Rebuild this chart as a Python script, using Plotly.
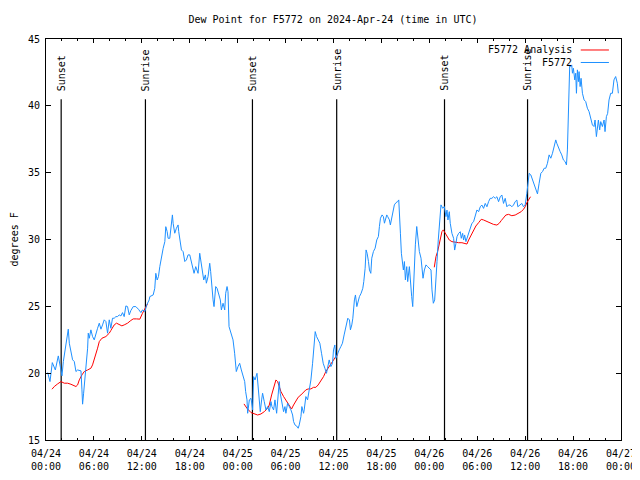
import plotly.graph_objects as go

# ---------------- data (time in hours since 2024-04-24 00:00 UTC) ----------------
obs_hours = [
    0.21, 0.5, 0.79, 1.17, 1.54, 1.75, 2.0, 2.17, 2.42, 2.58, 2.79, 2.92, 3.12, 3.33, 3.54, 3.75, 3.96,
    4.38, 4.5, 4.58, 4.71, 4.92, 5.08, 5.21, 5.29, 5.42, 5.62, 5.83, 6.04, 6.25, 6.46, 6.67, 6.88, 7.08,
    7.29, 7.5, 7.58, 7.71, 7.92, 8.12, 8.33, 8.54, 8.75, 8.96, 9.17, 9.38, 9.58, 9.79, 10.0, 10.21, 10.42,
    10.62, 10.92, 11.25, 11.58, 11.88, 12.08, 12.38, 12.62, 12.92, 13.0, 13.42, 13.62, 13.75, 13.92, 14.08,
    14.25, 14.46, 14.67, 14.88, 15.0, 15.17, 15.29, 15.5, 15.71, 15.83, 15.92, 16.12, 16.33, 16.54, 16.62,
    16.75, 16.96, 17.17, 17.38, 17.58, 17.79, 18.0, 18.21, 18.42, 18.54, 18.75, 18.92, 19.04, 19.25, 19.46,
    19.58, 19.75, 19.96, 20.08, 20.29, 20.5, 20.62, 20.75, 20.92, 21.04, 21.25, 21.42, 21.67, 21.83, 21.96,
    22.17, 22.38, 22.5, 22.67, 22.79, 22.92, 23.21, 23.42, 23.62, 23.83, 24.04, 24.25, 24.46, 24.67, 24.88,
    25.0, 25.17, 25.25, 25.46, 25.67, 25.88, 26.0, 26.17, 26.42, 26.58, 26.71, 26.83, 27.0, 27.12, 27.33,
    27.54, 27.75, 27.96, 28.17, 28.29, 28.5, 28.67, 28.88, 29.08, 29.21, 29.33, 29.5, 29.62, 29.75, 29.92,
    30.04, 30.25, 30.46, 30.67, 30.88, 31.0, 31.17, 31.38, 31.58, 31.71, 31.92, 32.04, 32.25, 32.33, 32.54,
    32.75, 32.96, 33.17, 33.38, 33.58, 33.71, 33.88, 34.08, 34.29, 34.5, 34.71, 34.92, 35.12, 35.25, 35.46,
    35.67, 35.88, 36.0, 36.17, 36.29, 36.5, 36.71, 36.92, 37.12, 37.33, 37.62, 37.79, 38.0, 38.12, 38.29,
    38.42, 38.62, 38.75, 38.92, 39.04, 39.25, 39.46, 39.67, 39.79, 39.96, 40.08, 40.21, 40.38, 40.5, 40.67,
    40.79, 41.0, 41.21, 41.42, 41.62, 41.75, 41.88, 42.08, 42.25, 42.38, 42.5, 42.67, 42.79, 43.0, 43.12,
    43.33, 43.5, 43.62, 43.83, 44.04, 44.17, 44.25, 44.38, 44.5, 44.67, 44.75, 44.88, 45.0, 45.17, 45.29,
    45.5, 45.62, 45.79, 45.92, 46.04, 46.12, 46.25, 46.42, 46.58, 46.75, 46.96, 47.08, 47.21, 47.38, 47.58,
    47.79, 48.0, 48.21, 48.33, 48.5, 48.67, 48.83, 48.96, 49.12, 49.25, 49.46, 49.67, 49.88, 50.08, 50.21,
    50.33, 50.5, 50.62, 50.83, 51.04, 51.17, 51.33, 51.46, 51.67, 51.88, 52.0, 52.17, 52.29, 52.42, 52.58,
    52.71, 52.92, 53.12, 53.33, 53.54, 53.75, 53.96, 54.17, 54.38, 54.58, 54.79, 55.0, 55.21, 55.42, 55.62,
    55.83, 56.04, 56.25, 56.46, 56.67, 56.88, 57.08, 57.29, 57.5, 57.71, 57.92, 58.12, 58.33, 58.54, 58.75,
    58.96, 59.08, 59.38, 59.58, 59.79, 60.0, 60.21, 60.33, 60.5, 60.71, 60.92, 61.12, 61.33, 61.54, 61.75,
    61.96, 62.17, 62.38, 62.58, 62.79, 63.0, 63.21, 63.42, 63.62, 63.83, 63.96, 64.17, 64.38, 64.58, 64.79,
    65.0, 65.17, 65.29, 65.42, 65.5, 65.58, 65.71, 65.83, 65.92, 66.04, 66.21, 66.33, 66.42, 66.54, 66.67,
    66.75, 66.88, 67.0, 67.17, 67.38, 67.58, 67.79, 68.0, 68.21, 68.42, 68.62, 68.75, 68.92, 69.04, 69.17,
    69.33, 69.46, 69.67, 69.88, 70.0, 70.17, 70.33, 70.5, 70.71, 70.92, 71.12, 71.33, 71.54, 71.67,
]
obs_dewpoint = [
    20.05, 19.37, 20.79, 20.24, 21.29, 20.5, 19.8, 20.87, 21.74, 22.24, 23.29, 22.24, 21.62, 21.0, 20.87, 20.12, 20.24,
    20.17, 18.75, 17.68, 18.5, 19.87, 20.87, 21.87, 22.99, 22.61, 23.24, 22.74, 22.49, 22.99, 23.36, 23.74, 23.29, 23.61,
    23.99, 23.86, 23.49, 22.99, 23.99, 23.36, 24.11, 24.11, 24.23, 24.23, 24.36, 24.28, 24.53, 24.23, 25.03, 24.98, 24.36,
    24.68, 24.98, 24.98, 24.78, 24.53, 24.73, 24.61, 25.11, 25.48, 25.73, 25.85, 26.35, 27.47, 26.97, 27.22,
    27.97, 28.72, 29.34, 29.84, 30.96, 30.59, 30.09, 30.09, 31.46, 31.84, 31.21, 30.47, 30.84, 31.09, 30.59,
    29.97, 29.22, 29.09, 28.35, 28.47, 28.85, 28.85, 28.35, 27.97, 27.47, 27.97, 27.72, 27.47, 28.97, 28.22,
    27.72, 26.97, 27.35, 26.73, 27.22, 28.22, 27.6, 26.35, 25.48, 24.98, 26.48, 26.35, 25.73, 25.48, 24.73,
    25.23, 24.73, 25.98, 26.48, 26.1, 23.48, 22.86, 22.49, 21.49, 20.12, 20.49, 20.74, 20.24, 19.87, 19.37,
    18.62, 18.0, 17.0, 18.0, 18.12, 17.25, 19.74, 19.49, 19.99, 19.0, 18.25, 17.12, 18.0, 18.5, 17.87,
    17.25, 17.5, 17.12, 17.87, 17.5, 17.25, 18.0, 17.0, 19.0, 19.37, 18.5, 18.0, 17.75, 17.12, 17.5,
    17.0, 17.75, 17.5, 17.25, 16.87, 16.38, 16.13, 16.05, 15.88, 16.13, 16.75, 17.5, 17.0, 17.25, 18.25,
    18.0, 18.75, 19.49, 20.74, 22.24, 23.11, 22.74, 22.49, 22.24, 21.49, 20.74, 20.37, 19.99, 20.37, 20.99,
    20.49, 20.74, 21.74, 22.11, 21.11, 21.49, 21.74, 21.99, 22.24, 22.86, 23.73, 24.11, 23.98, 23.24, 23.61,
    24.11, 25.48, 25.85, 24.98, 25.36, 25.73, 25.98, 26.35, 26.85, 27.85, 29.22, 28.97, 28.35, 27.72, 27.47,
    28.6, 29.1, 29.35, 29.97, 30.22, 30.97, 31.59, 31.84, 31.71, 31.22, 31.59, 31.84, 31.71, 31.47, 31.09,
    31.71, 31.96, 32.59, 32.76, 32.84, 32.96, 32.21, 30.47, 28.97, 28.35, 27.72, 28.35, 26.98, 27.97, 26.85,
    27.97, 26.6, 25.73, 24.98, 26.73, 28.1, 29.6, 30.97, 29.72, 29.1, 28.6, 27.97, 27.1, 27.72, 28.1,
    27.97, 27.85, 27.72, 26.23, 25.23, 25.48, 26.73, 28.35, 29.97, 31.34, 32.59, 32.34, 32.46, 31.71, 32.2,
    31.46, 32.08, 31.21, 30.46, 30.09, 29.21, 29.71, 30.21, 30.46, 30.58, 30.09, 30.46, 29.96, 30.34, 29.84,
    30.09, 30.58, 30.96, 31.21, 31.33, 31.71, 32.21, 32.08, 32.45, 32.58, 32.33, 32.7, 32.45, 32.83, 33.08,
    33.08, 33.2, 33.08, 33.2, 32.83, 33.2, 33.33, 32.7, 33.08, 32.45, 32.58, 32.58, 32.45, 32.58, 32.83,
    32.95, 32.45, 32.58, 32.7, 32.45, 32.58, 33.45, 34.33, 34.95, 34.83, 34.46, 34.21, 33.83, 33.41, 34.21,
    34.95, 35.08, 35.33, 35.33, 35.7, 36.33, 36.08, 36.45, 36.95, 37.45, 37.2, 36.83, 36.58, 36.33, 35.95,
    35.83, 35.58, 36.7, 38.94, 41.44, 43.06, 42.93, 43.06, 42.44, 42.81, 41.94, 42.44, 40.94, 42.69, 41.81,
    42.56, 41.44, 42.06, 40.94, 40.44, 40.32, 39.82, 39.57, 38.94, 38.57, 38.45, 38.94, 37.7, 38.45, 38.94,
    38.2, 38.82, 38.45, 38.94, 38.07, 39.19, 39.44, 40.44, 40.94, 40.94, 41.94, 42.19, 41.69, 40.94,
]

analysis_hours = [
    0.75, 1.04, 1.46, 1.88, 2.29, 2.71, 3.12, 3.42, 3.75, 3.96, 4.17, 4.5, 4.79, 5.21, 5.62, 5.83, 6.17,
    6.46, 6.67, 7.0, 7.5, 7.92, 8.12, 8.33, 8.54, 8.83, 9.17, 9.5, 9.79, 10.21, 10.62, 10.92, 11.33, 11.75,
    12.08, 12.42, 12.71, None,
    24.79, 25.17, 25.67, 26.08, 26.5, 26.92, 27.33, 27.75, 27.96, 28.25, 28.5, 28.79, 29.0, 29.21, 29.42,
    29.75, 30.04, 30.33, 30.58, 30.75, 31.0, 31.29, 31.58, 31.92, 32.25, 32.54, 32.83, 33.17, 33.5, 33.79,
    34.08, 34.42, 34.75, 35.04, 35.33, 35.67, 36.0, 36.29, 36.58, None,
    48.62, 48.83, 49.04, 49.25, 49.38, 49.58, 49.75, 50.0, 50.21, 50.5, 50.83, 51.25, 51.67, 52.08, 52.42,
    52.71, 52.92, 53.25, 53.54, 53.83, 54.17, 54.5, 54.79, 55.21, 55.62, 56.04, 56.46, 56.75, 57.0, 57.29,
    57.58, 57.92, 58.33, 58.75, 59.17, 59.5, 59.79, 60.0, 60.21, 60.42, 60.67,
]
analysis_dewpoint = [
    18.8, 19.0, 19.2, 19.37, 19.25, 19.25, 19.17, 19.07, 19.0, 19.12, 19.5, 19.87, 20.12, 20.24, 20.37, 20.62, 21.24,
    21.87, 22.36, 22.61, 22.74, 22.99, 23.19, 23.44, 23.61, 23.74, 23.66, 23.54, 23.61, 23.74, 23.94, 24.06, 24.06, 24.04,
    24.48, 24.86, 25.18, None,
    17.7, 17.37, 17.05, 16.95, 16.87, 16.95, 17.12, 17.37, 17.62, 18.37, 18.99, 19.49, 19.37, 18.99, 18.62,
    18.25, 18.0, 17.75, 17.45, 17.32, 17.62, 17.87, 18.2, 18.37, 18.55, 18.75, 18.82, 18.82, 18.94, 18.94,
    19.12, 19.44, 19.74, 20.12, 20.37, 20.74, 21.04, 21.24, 21.41, None,
    27.92, 28.72, 29.1, 29.72, 30.1, 30.59, 30.72, 30.47, 30.21, 29.96, 29.84, 29.79, 29.76, 29.76, 29.71,
    29.66, 29.96, 30.34, 30.71, 31.01, 31.26, 31.51, 31.46, 31.33, 31.21, 31.13, 31.08, 31.21, 31.41, 31.63,
    31.83, 31.88, 31.78, 31.83, 31.96, 32.08, 32.26, 32.45, 32.75, 32.95, 33.2,
]

sun_event_hours = [1.9, 12.45, 25.85, 36.4, 49.9, 60.3]
sun_event_labels = ["Sunset", "Sunrise", "Sunset", "Sunrise", "Sunset", "Sunrise"]

x_tick_hours = [0, 6, 12, 18, 24, 30, 36, 42, 48, 54, 60, 66, 72]
x_tick_labels = [
    "04/24<br>00:00", "04/24<br>06:00", "04/24<br>12:00", "04/24<br>18:00",
    "04/25<br>00:00", "04/25<br>06:00", "04/25<br>12:00", "04/25<br>18:00",
    "04/26<br>00:00", "04/26<br>06:00", "04/26<br>12:00", "04/26<br>18:00",
    "04/27<br>00:00",
]
y_ticks = [15, 20, 25, 30, 35, 40, 45]

series_names = ["F5772 Analysis", "F5772"]
series_colors = ["#ff0000", "#1e90ff"]

# ---------------- figure ----------------
FONT = "DejaVu Sans Mono"
PAGE_OFFSET = 8  # default body margin of the html page
fig = go.Figure()

fig.add_trace(go.Scatter(x=analysis_hours, y=analysis_dewpoint, mode="lines",
                         name=series_names[0], line=dict(color=series_colors[0], width=1),
                         connectgaps=False, showlegend=False))
fig.add_trace(go.Scatter(x=obs_hours, y=obs_dewpoint, mode="lines",
                         name=series_names[1], line=dict(color=series_colors[1], width=1),
                         showlegend=False))

label_top = 40.5
for h, lab in zip(sun_event_hours, sun_event_labels):
    fig.add_shape(type="line", xref="x", yref="y", x0=h, x1=h, y0=y_ticks[0], y1=label_top,
                  line=dict(color="black", width=1.2), layer="below")
    fig.add_annotation(x=h, y=label_top + 0.45, xref="x", yref="y", text=lab, textangle=-90,
                       showarrow=False, xanchor="center", yanchor="bottom",
                       font=dict(family=FONT, size=10, color="black"))

# custom gnuplot-style legend (text right, sample on its right)
legend_rows = [0.9726, 0.9414]
for name, col, yy in zip(series_names, series_colors, legend_rows):
    fig.add_annotation(x=0.919, y=yy, xref="paper", yref="paper", text=name, showarrow=False,
                       xanchor="right", yanchor="middle",
                       font=dict(family=FONT, size=10, color="black"))
    fig.add_shape(type="line", xref="paper", yref="paper", x0=0.93, x1=0.979, y0=yy, y1=yy,
                  line=dict(color=col, width=1))

# y-axis title
fig.add_annotation(x=-0.054, y=0.5, xref="paper", yref="paper", text="degrees F", textangle=-90,
                   showarrow=False, xanchor="center", yanchor="middle",
                   font=dict(family=FONT, size=10, color="black"))

# figure sized so the page (with its 8px body margin) needs no scrollbar
W, H = 640 - PAGE_OFFSET, 480 - 2 * PAGE_OFFSET
L, T = 46 - PAGE_OFFSET, 39 - PAGE_OFFSET
PW, PH = 575, 401
fig.update_layout(
    width=W, height=H,
    margin=dict(l=L, r=W - L - PW, t=T, b=H - T - PH, autoexpand=False),
    paper_bgcolor="white", plot_bgcolor="white",
    font=dict(family=FONT, size=10, color="black"),
    title=dict(text="Dew Point for F5772 on 2024-Apr-24 (time in UTC)",
               x=(333 - PAGE_OFFSET) / W, xanchor="center",
               y=1 - (19 - PAGE_OFFSET) / H, yanchor="middle",
               font=dict(family=FONT, size=10, color="black")),
    showlegend=False,
)
fig.update_xaxes(range=[x_tick_hours[0], x_tick_hours[-1]], tickmode="array", tickvals=x_tick_hours,
                 ticktext=x_tick_labels, ticks="inside", ticklen=4, tickcolor="black",
                 ticklabelstandoff=4,
                 showline=True, linecolor="black", linewidth=1, mirror="ticks",
                 showgrid=False, zeroline=False,
                 minor=dict(dtick=2, tick0=0, ticks="inside", ticklen=2, tickcolor="black", showgrid=False))
fig.update_yaxes(range=[y_ticks[0], y_ticks[-1]], tickmode="array", tickvals=y_ticks,
                 ticks="inside", ticklen=5, tickcolor="black", ticklabelstandoff=3,
                 showline=True, linecolor="black", linewidth=1, mirror="ticks",
                 showgrid=False, zeroline=False)

fig.write_html("out.html")
